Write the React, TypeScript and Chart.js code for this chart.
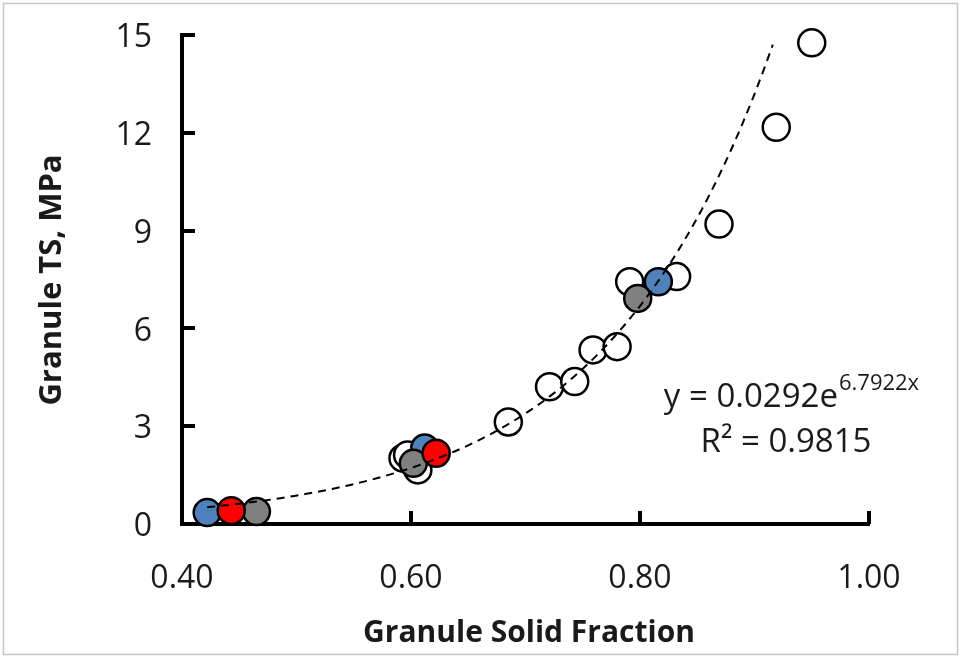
import React, { useEffect, useRef } from "react";
import { Chart, registerables } from "chart.js";

Chart.register(...registerables);

// ---- data ----
const whiteX = [0.593, 0.597, 0.606, 0.685, 0.721, 0.743, 0.759, 0.780, 0.791, 0.832, 0.869, 0.919, 0.950];
const whiteY = [2.02, 2.12, 1.66, 3.13, 4.21, 4.37, 5.34, 5.44, 7.43, 7.59, 9.20, 12.17, 14.76];
const blueX = [0.422, 0.612, 0.816];
const blueY = [0.35, 2.33, 7.43];
const redX = [0.443, 0.622];
const redY = [0.41, 2.17];
const grayX = [0.465, 0.602, 0.798];
const grayY = [0.38, 1.86, 6.92];

// exponential trendline as printed on the chart: y = A * e^(B x)
const TREND_A = 0.0292;
const TREND_B = 6.7922;
const TREND_X_START = 0.422;
const TREND_X_END = 0.916;
const TREND_STEP = 0.004;

const xTickLabels = ["0.40", "0.60", "0.80", "1.00"];
const yTickLabels = ["0", "3", "6", "9", "12", "15"];

const xAxisTitle = "Granule Solid Fraction";
const yAxisTitle = "Granule TS, MPa";
const eqMain = "y = 0.0292e";
const eqExp = "6.7922x";
const eqR2 = "R² = 0.9815";

const FONT = "'Open Sans', 'DejaVu Sans', sans-serif";
const TEXT = "#1a1a1a";

function pts(xs: number[], ys: number[]) {
  return xs.map((x, i) => ({ x, y: ys[i] }));
}

function trendPoints() {
  const out: { x: number; y: number }[] = [];
  for (let x = TREND_X_START; x < TREND_X_END; x += TREND_STEP) {
    out.push({ x, y: TREND_A * Math.exp(TREND_B * x) });
  }
  out.push({ x: TREND_X_END, y: TREND_A * Math.exp(TREND_B * TREND_X_END) });
  return out;
}

const decorPlugin = {
  id: "decor",
  beforeDraw(chart: any) {
    const { ctx, width, height } = chart;
    ctx.save();
    ctx.fillStyle = "#ffffff";
    ctx.fillRect(0, 0, width, height);
    ctx.strokeStyle = "#c6c6c6";
    ctx.lineWidth = 1.5;
    ctx.strokeRect(3.5, 3.5, width - 7, height - 7);
    ctx.restore();
  },
  afterDraw(chart: any) {
    const { ctx, chartArea } = chart;
    const xs = chart.scales.x;
    const ys = chart.scales.y;
    ctx.save();
    // inward tick marks
    ctx.strokeStyle = "#000";
    ctx.lineWidth = 4;
    ys.ticks.forEach((t: any) => {
      if (t.value === ys.min) return;
      const py = Math.round(ys.getPixelForValue(t.value));
      ctx.beginPath();
      ctx.moveTo(chartArea.left, py);
      ctx.lineTo(chartArea.left + 13, py);
      ctx.stroke();
    });
    xs.ticks.forEach((t: any) => {
      if (Math.abs(t.value - xs.min) < 1e-9) return;
      const px = Math.round(xs.getPixelForValue(t.value));
      ctx.beginPath();
      ctx.moveTo(px, chartArea.bottom);
      ctx.lineTo(px, chartArea.bottom - 13);
      ctx.stroke();
    });

    // axis titles
    ctx.fillStyle = TEXT;
    ctx.font = `bold 30px ${FONT}`;
    ctx.textAlign = "center";
    ctx.textBaseline = "middle";
    ctx.fillText(xAxisTitle, 529, 633);
    ctx.save();
    ctx.translate(52, 280);
    ctx.rotate(-Math.PI / 2);
    ctx.font = `bold 31px ${FONT}`;
    ctx.fillText(yAxisTitle, 0, 0);
    ctx.restore();

    // trendline equation
    ctx.textBaseline = "alphabetic";
    ctx.font = `33px ${FONT}`;
    const wMain = ctx.measureText(eqMain).width;
    ctx.font = `22px ${FONT}`;
    const wExp = ctx.measureText(eqExp).width;
    const cx = 791;
    const left = cx - (wMain + wExp) / 2;
    ctx.textAlign = "left";
    ctx.font = `33px ${FONT}`;
    ctx.fillText(eqMain, left, 407);
    ctx.font = `22px ${FONT}`;
    ctx.fillText(eqExp, left + wMain + 1, 390);
    ctx.font = `33px ${FONT}`;
    ctx.textAlign = "center";
    ctx.fillText(eqR2, 786, 452);
    ctx.restore();
  },
};

export default function App() {
  const ref = useRef<HTMLCanvasElement | null>(null);

  useEffect(() => {
    if (!ref.current) return;
    const marker = (fill: string) => ({
      type: "scatter" as const,
      pointRadius: 13.5,
      pointHoverRadius: 13.5,
      pointBorderWidth: 2.5,
      pointBorderColor: "#000000",
      pointBackgroundColor: fill,
      backgroundColor: fill,
      borderColor: "#000000",
      showLine: false,
      clip: false,
    });
    const chart = new Chart(ref.current, {
      type: "scatter",
      data: {
        datasets: [
          {
            type: "line",
            label: "Exponential fit",
            data: trendPoints(),
            borderColor: "#000000",
            borderWidth: 2,
            borderDash: [8, 6],
            pointRadius: 0,
            fill: false,
            tension: 0,
            clip: false,
          } as any,
          { label: "Red", data: pts(redX, redY), ...marker("#ff0000") },
          { label: "Gray", data: pts(grayX, grayY), ...marker("#808080") },
          { label: "Blue", data: pts(blueX, blueY), ...marker("#4f81bd") },
          { label: "White", data: pts(whiteX, whiteY), ...marker("#ffffff") },
        ],
      },
      options: {
        responsive: false,
        animation: false,
        events: [],
        layout: { padding: { top: 35, right: 92, left: 0, bottom: 0 } },
        plugins: {
          legend: { display: false },
          tooltip: { enabled: false },
          title: { display: false },
        },
        scales: {
          x: {
            type: "linear",
            min: 0.4,
            max: 1.0,
            afterFit: (s: any) => {
              s.height = 134;
              s.paddingLeft = 0;
              s.paddingRight = 0;
            },
            ticks: {
              stepSize: 0.2,
              padding: 36,
              color: TEXT,
              font: { family: FONT, size: 32 },
              maxRotation: 0,
              callback: (v: any) => {
                const i = Math.round((Number(v) - 0.4) / 0.2);
                return xTickLabels[i] ?? Number(v).toFixed(2);
              },
            },
            grid: { display: false, drawTicks: false },
            border: { display: true, color: "#000000", width: 4 },
          },
          y: {
            type: "linear",
            min: 0,
            max: 15,
            afterFit: (s: any) => {
              s.width = 182;
              s.paddingTop = 0;
              s.paddingBottom = 0;
            },
            ticks: {
              stepSize: 3,
              padding: 30,
              labelOffset: 3,
              color: TEXT,
              font: { family: FONT, size: 32 },
              callback: (v: any) => {
                const i = Math.round(Number(v) / 3);
                return yTickLabels[i] ?? String(v);
              },
            },
            grid: { display: false, drawTicks: false },
            border: { display: true, color: "#000000", width: 4 },
          },
        },
      },
      plugins: [decorPlugin],
    } as any);
    return () => chart.destroy();
  }, []);

  return (
    <div style={{ position: "fixed", left: 0, top: 0, width: 961, height: 658, background: "#fff" }}>
      <canvas ref={ref} width={961} height={658} style={{ display: "block" }} />
    </div>
  );
}
